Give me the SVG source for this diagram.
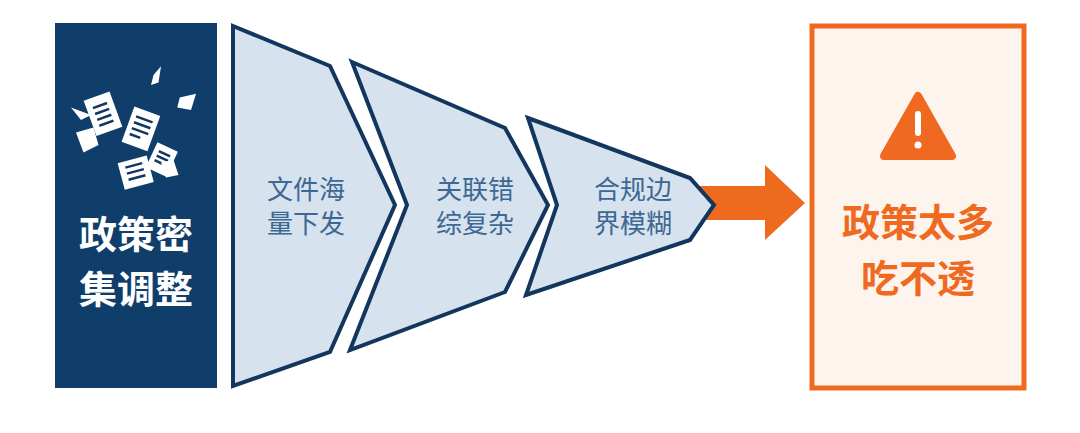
<svg xmlns="http://www.w3.org/2000/svg" width="1080" height="433" viewBox="0 0 1080 433">
<style>
.chev{fill:#d6e2ee;stroke:#13365f;stroke-width:4;stroke-linejoin:miter}
.ct{font-family:"Noto Sans CJK SC",sans-serif;font-size:26px;fill:#3d6893;text-anchor:middle}
.bt{font-family:"Noto Sans CJK SC",sans-serif;font-size:38px;font-weight:bold;text-anchor:middle}
.pg{fill:#fff}
.ln{stroke:#13365f;stroke-width:2}
</style>
<rect width="1080" height="433" fill="#fff"/>
<g id="left">
<rect x="55" y="23" width="162" height="365" fill="#103e6b"/>
<g transform="translate(136,135) scale(1.25)">
<g transform="rotate(-20)"><rect x="-30" y="-40" width="22" height="30" class="pg"/><path class="ln" d="M-25 -32h12M-25 -27h12M-25 -22h12M-25 -17h12"/></g>
<g transform="rotate(20)"><rect x="-10" y="-22" width="24" height="32" class="pg" stroke="#103e6b" stroke-width="2"/><path class="ln" d="M-5 -14h14M-5 -9h14M-5 -4h14M-5 1h9"/></g>
<g transform="rotate(25)"><rect x="18" y="-2" width="18" height="22" class="pg"/><path class="ln" d="M22 4h10M22 8h10M22 12h10"/></g>
<g transform="rotate(-15)"><rect x="-20" y="18" width="24" height="22" class="pg"/><path class="ln" d="M-15 23h14M-15 28h14M-15 33h14"/></g>
<polygon class="pg" points="-48,-2 -34,-6 -30,8 -42,14"/>
<polygon class="pg" points="35,-30 48,-33 44,-20 33,-22"/>
<polygon class="pg" points="20,22 30,20 34,32 24,34"/>
<polygon class="pg" points="14,-48 20,-55 18,-42 12,-40"/>
<path d="M-52 -22 L-36 -16 L-44 -12Z" class="pg"/>
</g>
<text class="bt" x="136" y="248" fill="#fff">政策密</text>
<text class="bt" x="136" y="303" fill="#fff">集调整</text>
</g>
<g id="connectors">
<polygon points="700,186 765,186 765,165 805,203 765,240 765,220 700,220" fill="#ee6a1f"/>
</g>
<g id="chev1">
<polygon class="chev" points="233,26 330,66 395,205 330,352 233,386"/>
<text class="ct" x="306" y="199">文件海</text>
<text class="ct" x="306" y="233">量下发</text>
</g>
<g id="chev2">
<polygon class="chev" points="352,62 505,128 548,205 505,292 350,350 407,205"/>
<text class="ct" x="475" y="199">关联错</text>
<text class="ct" x="475" y="233">综复杂</text>
</g>
<g id="chev3">
<polygon class="chev" points="528,118 690,178 714,205 690,240 526,295 557,205"/>
<text class="ct" x="633" y="199">合规边</text>
<text class="ct" x="633" y="233">界模糊</text>
</g>
<g id="result">
<rect x="812" y="26" width="212" height="362" fill="#fdf4ee" stroke="#ef6a20" stroke-width="5"/>
<path d="M918 96 L952 156 L884 156 Z" fill="#ef6a20" stroke="#ef6a20" stroke-width="8" stroke-linejoin="round"/>
<rect x="915" y="111" width="6" height="25" rx="3" fill="#fff"/>
<circle cx="918" cy="145" r="3.5" fill="#fff"/>
<text class="bt" x="918" y="236" fill="#ef6a20">政策太多</text>
<text class="bt" x="918" y="292" fill="#ef6a20">吃不透</text>
</g>
</svg>
